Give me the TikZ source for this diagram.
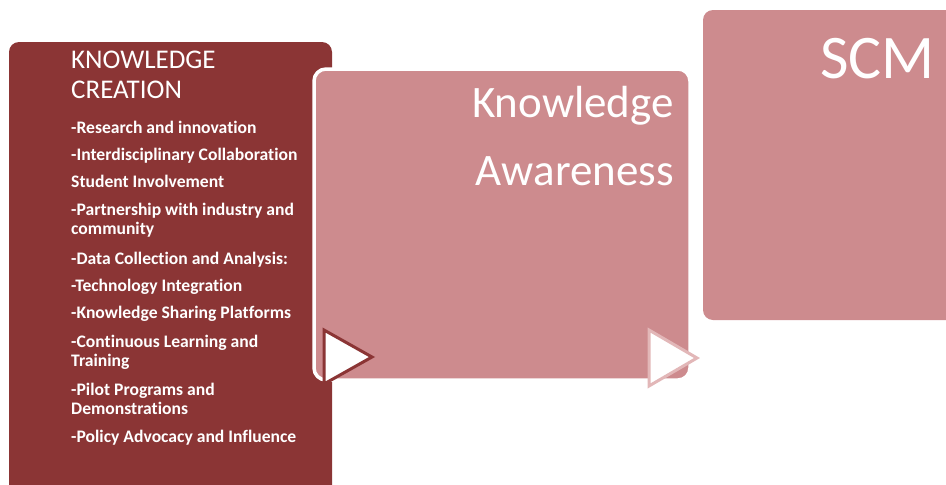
\documentclass[tikz,border=0pt]{standalone}
\usepackage{fontspec}
\setmainfont[Ligatures=NoCommon]{Carlito}
\definecolor{darkred}{HTML}{8B3535}
\definecolor{rosefill}{HTML}{CD8B8E}
\definecolor{paleline}{HTML}{E2B7B8}
\begin{document}
\begin{tikzpicture}[x=1pt,y=-1pt,
  item/.style={anchor=base west,inner sep=0pt,text=white,font=\fontsize{17.6}{20}\selectfont\bfseries},
  ttl/.style={anchor=base west,inner sep=0pt,text=white,font=\fontsize{27}{30}\selectfont},
  bigr/.style={anchor=base east,inner sep=0pt,text=white},
  tri/.style={line width=3pt,fill=white,line join=miter}]
\useasboundingbox (0,0) rectangle (946,485);
\clip (0,0) rectangle (946,485);
% boxes
\fill[darkred, rounded corners=10pt] (9,42) rectangle (332,505);
\draw[white, line width=3.5pt, fill=rosefill, rounded corners=12pt] (314,69) rectangle (690,380);
\fill[rosefill, rounded corners=10pt] (703,10) rectangle (970,320);
% arrows
\draw[tri, draw=darkred] (324,330) -- (372,357) -- (324,384) -- cycle;
\draw[tri, draw=paleline] (649,330) -- (697,358) -- (649,386) -- cycle;
% box 1 text
\node[ttl] (t1) at (71,68) {KNOWLEDGE};
\node[ttl] (t2) at (71,98) {CREATION};
\node[item] (i1) at (71,133.5) {-Research and innovation};
\node[item] (i2) at (71,160.5) {-Interdisciplinary Collaboration};
\node[item] (i3) at (71,187.5) {Student Involvement};
\node[item] (i4a) at (71,215) {-Partnership with industry and};
\node[item] (i4b) at (71,234.5) {community};
\node[item] (i5) at (71,264) {-Data Collection and Analysis:};
\node[item] (i6) at (71,291) {-Technology Integration};
\node[item] (i7) at (71,318.5) {-Knowledge Sharing Platforms};
\node[item] (i8a) at (71,347.5) {-Continuous Learning and};
\node[item] (i8b) at (71,366) {Training};
\node[item] (i9a) at (71,395) {-Pilot Programs and};
\node[item] (i9b) at (71,414.5) {Demonstrations};
\node[item] (i10) at (71,442) {-Policy Advocacy and Influence};
% box 2 text
\node[bigr, font=\fontsize{45}{50}\selectfont] (k1) at (674,117) {Knowledge};
\node[bigr, font=\fontsize{45}{50}\selectfont] (k2) at (674,185) {Awareness};
% box 3 text
\node[bigr, font=\fontsize{62}{70}\selectfont] (s1) at (935,78) {SCM};
\end{tikzpicture}
\end{document}
